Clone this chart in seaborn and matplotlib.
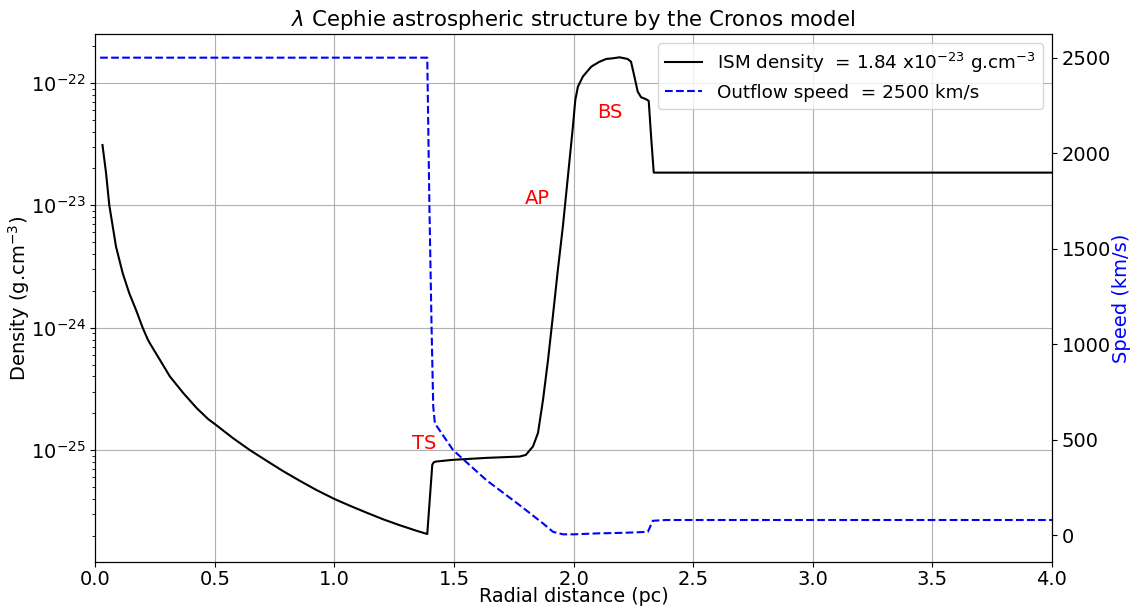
import numpy as np
import pandas as pd
import matplotlib
matplotlib.use("Agg")
import matplotlib.pyplot as plt
import seaborn as sns

# Density profile (radial distance in pc, density in g/cm^3)
dens_r = [0.030, 0.045, 0.0585, 0.073, 0.0865, 0.1145, 0.142, 0.170, 0.198, 0.219,
          0.228, 0.270, 0.312, 0.368, 0.424, 0.472, 0.500, 0.576, 0.646, 0.716,
          0.785, 0.855, 0.925, 1.000, 1.064, 1.134, 1.203, 1.273, 1.343, 1.388,
          1.409, 1.415, 1.423, 1.496, 1.635, 1.774, 1.800, 1.830, 1.851, 1.872,
          1.893, 1.913, 1.934, 1.955, 1.976, 1.997, 2.007, 2.018, 2.039, 2.074,
          2.108, 2.136, 2.164, 2.192, 2.226, 2.240, 2.254, 2.268, 2.282, 2.303,
          2.314, 2.324, 2.335, 2.500, 3.000, 3.500, 4.000]
dens_val = [3.11e-23, 1.83e-23, 1.00e-23, 6.70e-24, 4.60e-24, 2.79e-24, 1.91e-24,
            1.40e-24, 1.00e-24, 8.05e-25, 7.46e-25, 5.46e-25, 3.99e-25, 2.92e-25,
            2.20e-25, 1.79e-25, 1.63e-25, 1.25e-25, 1.00e-25, 8.18e-26, 6.73e-26,
            5.61e-26, 4.71e-26, 3.98e-26, 3.51e-26, 3.08e-26, 2.72e-26, 2.43e-26,
            2.19e-26, 2.06e-26, 7.59e-26, 7.94e-26, 8.05e-26, 8.32e-26, 8.63e-26,
            8.85e-26, 9.12e-26, 1.07e-25, 1.38e-25, 2.57e-25, 5.46e-25, 1.23e-24,
            2.96e-24, 6.70e-24, 1.71e-23, 4.40e-23, 7.26e-23, 9.33e-23, 1.13e-22,
            1.36e-22, 1.49e-22, 1.57e-22, 1.59e-22, 1.62e-22, 1.57e-22, 1.49e-22,
            1.13e-22, 8.49e-23, 7.64e-23, 7.36e-23, 7.13e-23, 3.64e-23, 1.85e-23,
            1.85e-23, 1.85e-23, 1.85e-23, 1.85e-23]

# Outflow speed profile (radial distance in pc, speed in km/s)
speed_r = [0.020, 0.500, 1.000, 1.388, 1.397, 1.406, 1.413, 1.420, 1.496, 1.635,
           1.774, 1.872, 1.914, 1.956, 2.000, 2.100, 2.212, 2.310, 2.317, 2.331,
           2.387, 3.000, 3.500, 4.000]
speed_val = [2500, 2500, 2500, 2500, 1720, 1091, 672, 585, 445, 288,
             157, 61, 17, 4, 4, 9, 12, 17, 35, 75,
             79, 79, 79, 79]

labels = {"TS": (1.377, 1.14e-25), "AP": (1.849, 1.13e-23), "BS": (2.150, 5.7e-23)}

plt.rcParams['font.family'] = ['DejaVu Sans']
plt.rcParams['font.size'] = 14

df_d = pd.DataFrame({"r": dens_r, "rho": dens_val})
df_s = pd.DataFrame({"r": speed_r, "v": speed_val})

fig = plt.figure(figsize=(11.36, 6.07), dpi=100)
ax = fig.add_axes([0.0839, 0.0741, 0.8421, 0.8699])
ax.set_yscale("log")
sns.lineplot(data=df_d, x="r", y="rho", ax=ax, color="black", linewidth=1.5,
             sort=False, estimator=None, label="ISM density  = 1.84 x10$^{-23}$ g.cm$^{-3}$",
             legend=False)
ax.set_xlim(0, 4.0)
ax.set_ylim(10**-25.915, 10**-21.6)
ax.set_xticks(np.arange(0, 4.01, 0.5))
ax.tick_params(axis="x", pad=2.5)
ax.grid(True, color="#b0b0b0", linewidth=0.8)
ax.set_xlabel("Radial distance (pc)", labelpad=-1.5, fontsize=13.8)
ax.set_ylabel("Density (g.cm$^{-3}$)", labelpad=-1)
ax.set_title(r"$\lambda$ Cephie astrospheric structure by the Cronos model", fontsize=15.3)

for txt, (xx, yy) in labels.items():
    ax.text(xx, yy, txt, color="red", ha="center", va="center", fontsize=14)

ax2 = ax.twinx()
sns.lineplot(data=df_s, x="r", y="v", ax=ax2, color="blue", linestyle="--", linewidth=1.5,
             sort=False, estimator=None, label="Outflow speed  = 2500 km/s", legend=False)
ax2.set_ylim(-141, 2624)
ax2.set_yticks([0, 500, 1000, 1500, 2000, 2500])
ax2.set_ylabel("Speed (km/s)", color="blue", labelpad=1)
ax2.set_xlim(0, 4.0)

h1, l1 = ax.get_legend_handles_labels()
h2, l2 = ax2.get_legend_handles_labels()
ax2.legend(h1 + h2, l1 + l2, loc="upper right", fontsize=13.2)

fig.savefig("out.png", dpi=100)
